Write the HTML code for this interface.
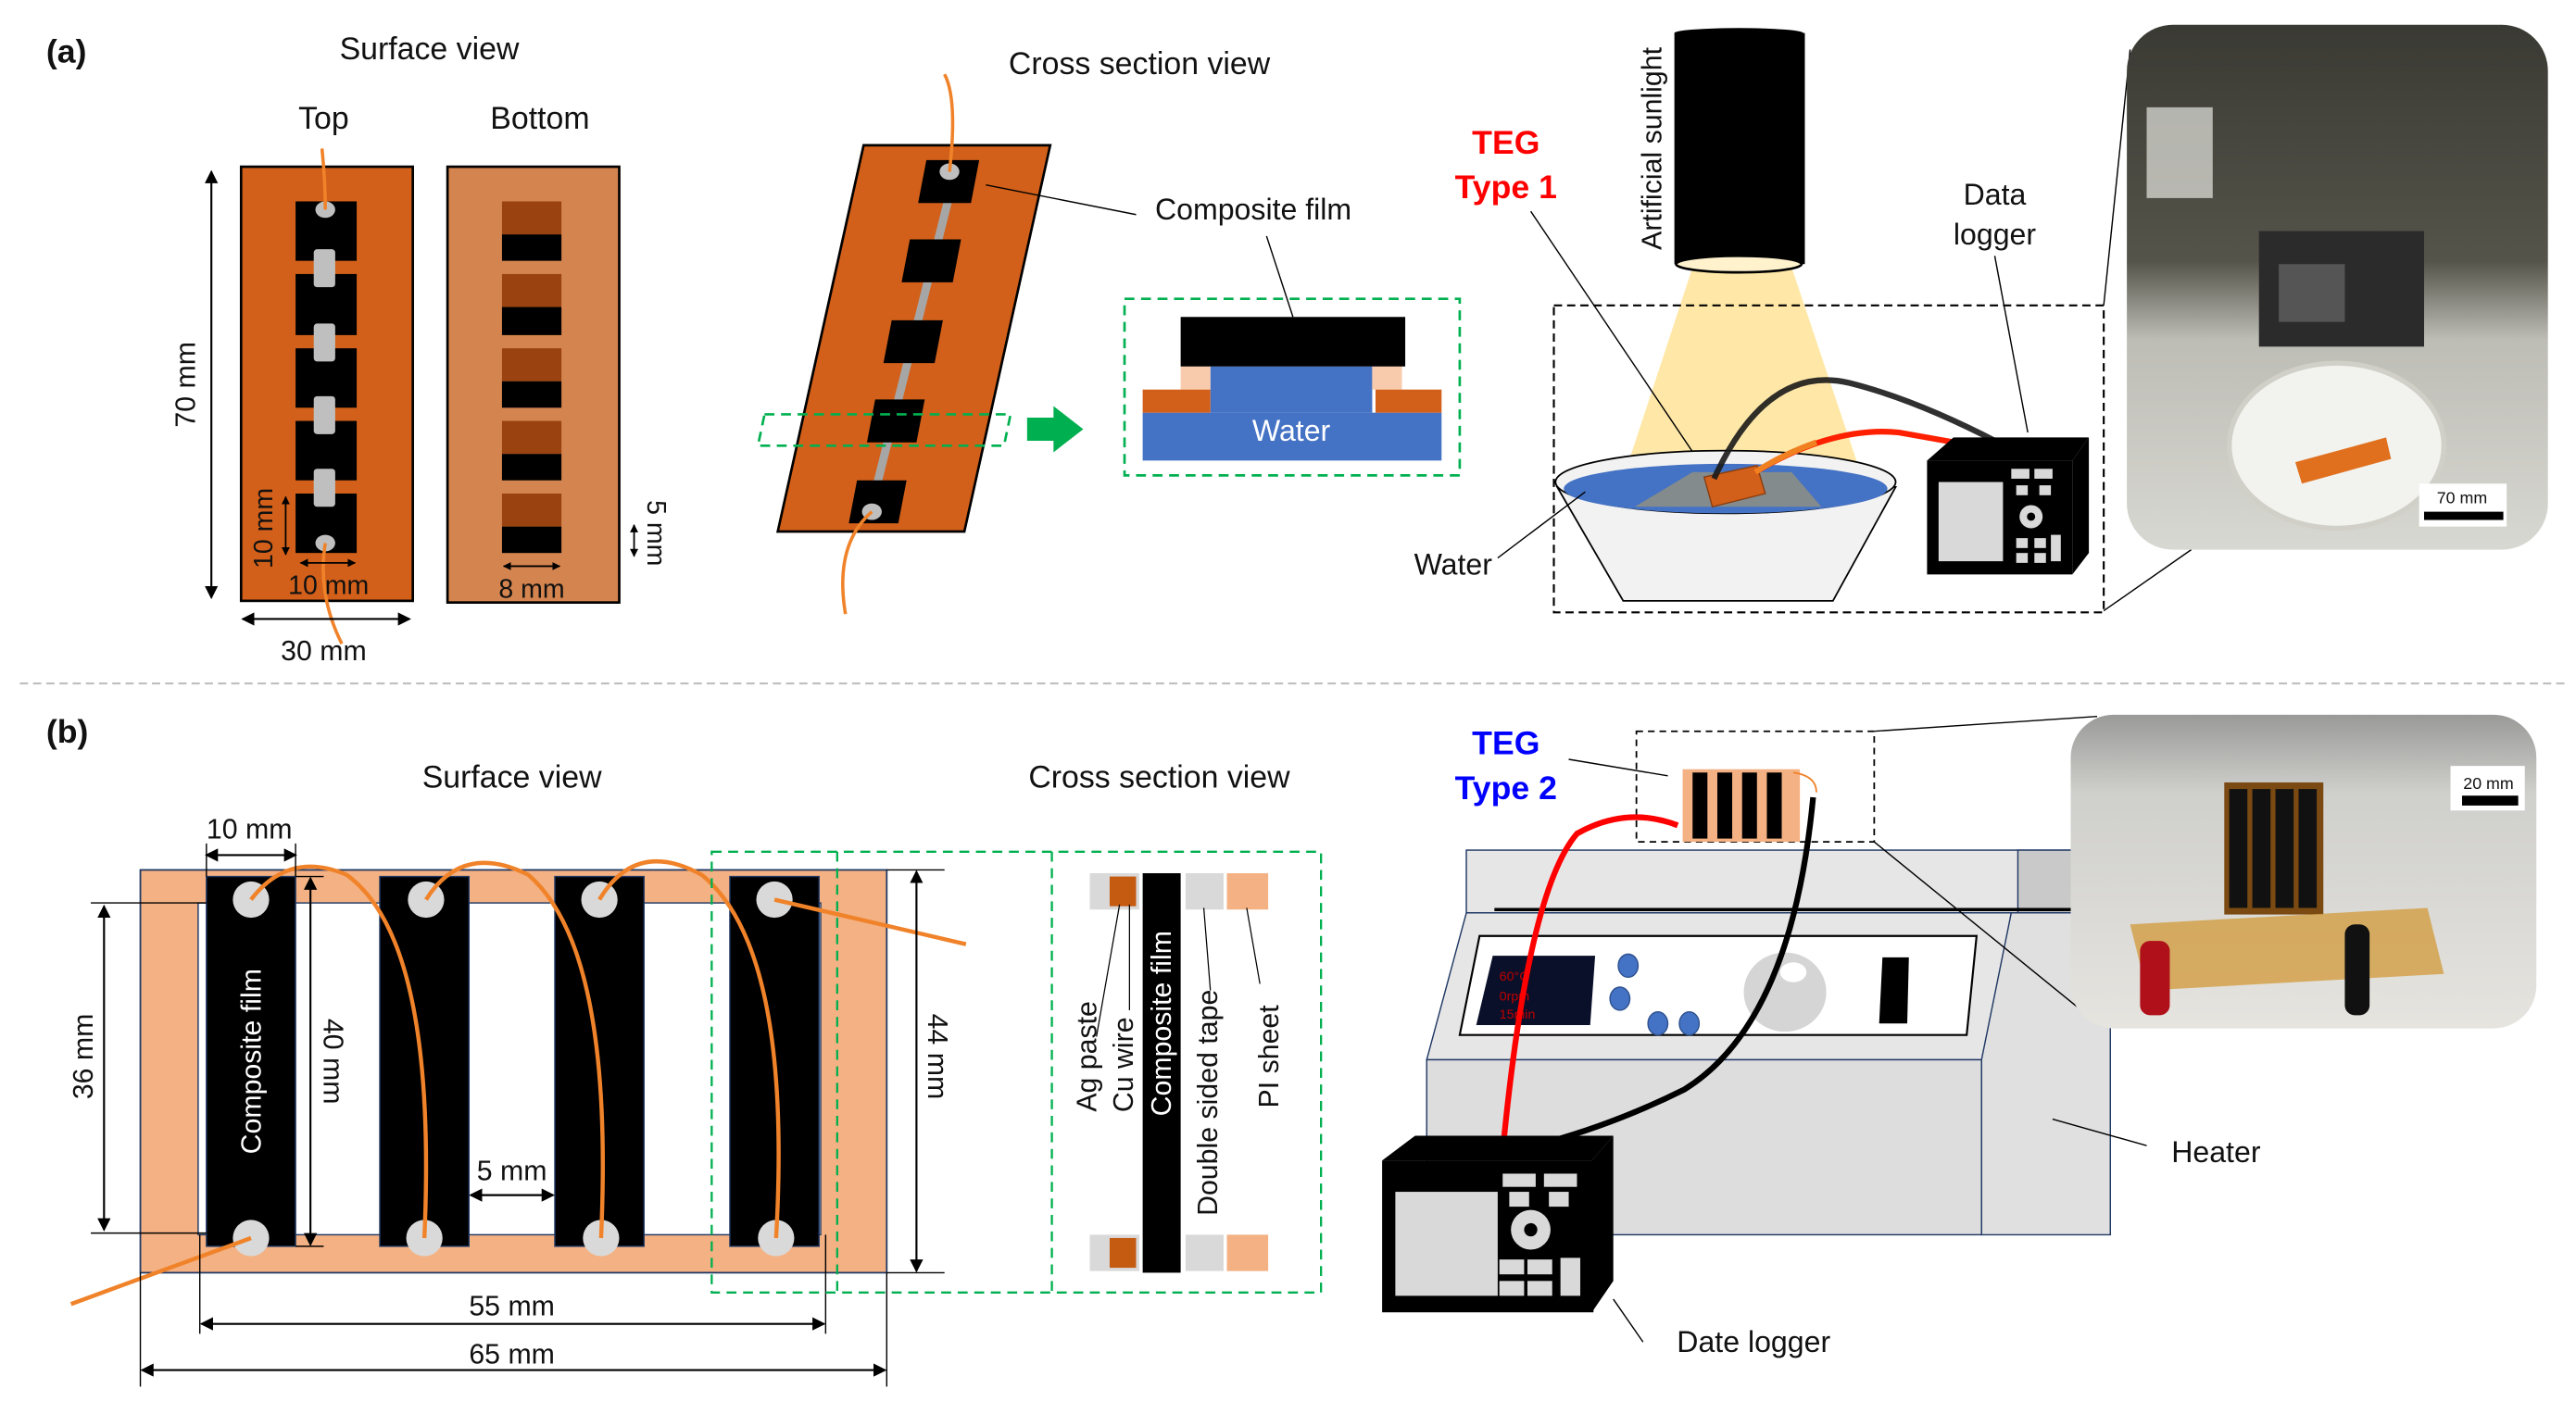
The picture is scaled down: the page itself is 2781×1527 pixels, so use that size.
<!DOCTYPE html>
<html><head><meta charset="utf-8"><style>
html,body{margin:0;padding:0;background:#fff;}
svg{display:block;}
text{font-family:"Liberation Sans Narrow","Liberation Sans",sans-serif;fill:#111;}
.w{font-family:"Liberation Sans",sans-serif;}
</style></head><body>
<svg width="2781" height="1527" viewBox="0 0 1560 856.6" preserveAspectRatio="none" xmlns="http://www.w3.org/2000/svg">
<defs>
<marker id="ar" markerWidth="8" markerHeight="8" refX="7" refY="4" orient="auto-start-reverse" markerUnits="userSpaceOnUse"><path d="M0,0 L8,4 L0,8 z" fill="#000"/></marker>
<marker id="as" markerWidth="5" markerHeight="5" refX="4.5" refY="2.5" orient="auto-start-reverse" markerUnits="userSpaceOnUse"><path d="M0,0 L5,2.5 L0,5 z" fill="#000"/></marker>
<linearGradient id="ph1" x1="0" y1="0" x2="0" y2="1"><stop offset="0" stop-color="#3a3a34"/><stop offset="0.45" stop-color="#55544a"/><stop offset="0.6" stop-color="#bdbdb6"/><stop offset="1" stop-color="#d8d8d2"/></linearGradient>
<linearGradient id="ph2" x1="0" y1="0" x2="0" y2="1"><stop offset="0" stop-color="#9a9a98"/><stop offset="0.25" stop-color="#cfcfcc"/><stop offset="1" stop-color="#e6e4df"/></linearGradient>
</defs>

<!-- (a) -->
<text x="28" y="38" font-size="20" font-weight="bold">(a)</text>
<text x="260" y="36" font-size="19" text-anchor="middle">Surface view</text>
<text x="196" y="78" font-size="19" text-anchor="middle">Top</text>
<text x="327" y="78" font-size="19" text-anchor="middle">Bottom</text>

<!-- top board -->
<rect x="146" y="101" width="104" height="263" fill="#D2601A" stroke="#000" stroke-width="1.5"/>
<g fill="#000">
<rect x="179" y="122" width="37" height="36"/><rect x="179" y="166" width="37" height="37"/><rect x="179" y="211" width="37" height="36"/><rect x="179" y="255" width="37" height="36"/><rect x="179" y="299" width="37" height="36"/>
</g>
<g fill="#BFBFBF"><rect x="190" y="151" width="13" height="23" rx="2"/><rect x="190" y="196" width="13" height="23" rx="2"/><rect x="190" y="240" width="13" height="23" rx="2"/><rect x="190" y="284" width="13" height="23" rx="2"/>
<ellipse cx="197" cy="127" rx="6" ry="5"/><ellipse cx="197" cy="329" rx="6" ry="5"/></g>
<path d="M195,90 Q197,110 197,127" stroke="#F0832A" stroke-width="2" fill="none"/>
<path d="M197,329 Q192,360 207,390" stroke="#F0832A" stroke-width="2" fill="none"/>

<!-- bottom board -->
<rect x="271" y="101" width="104" height="264" fill="#D4844E" stroke="#000" stroke-width="1.5"/>
<g>
<rect x="304" y="122" width="36" height="20" fill="#9A4310"/><rect x="304" y="142" width="36" height="16" fill="#000"/>
<rect x="304" y="166" width="36" height="20" fill="#9A4310"/><rect x="304" y="186" width="36" height="17" fill="#000"/>
<rect x="304" y="211" width="36" height="20" fill="#9A4310"/><rect x="304" y="231" width="36" height="16" fill="#000"/>
<rect x="304" y="255" width="36" height="20" fill="#9A4310"/><rect x="304" y="275" width="36" height="16" fill="#000"/>
<rect x="304" y="299" width="36" height="20" fill="#9A4310"/><rect x="304" y="319" width="36" height="16" fill="#000"/>
</g>
<!-- dims a -->
<line x1="128" y1="104" x2="128" y2="362" stroke="#000" stroke-width="1.2" marker-start="url(#ar)" marker-end="url(#ar)"/>
<text transform="translate(118,233) rotate(-90)" font-size="17" text-anchor="middle" class="w">70 mm</text>
<line x1="147" y1="375" x2="248" y2="375" stroke="#000" stroke-width="1.2" marker-start="url(#ar)" marker-end="url(#ar)"/>
<text x="196" y="400" font-size="17" text-anchor="middle">30 mm</text>
<line x1="173" y1="301" x2="173" y2="336" stroke="#000" stroke-width="1" marker-start="url(#as)" marker-end="url(#as)"/>
<text transform="translate(165,320) rotate(-90)" font-size="16" text-anchor="middle" class="w">10 mm</text>
<line x1="182" y1="341" x2="215" y2="341" stroke="#000" stroke-width="1" marker-start="url(#as)" marker-end="url(#as)"/>
<text x="199" y="360" font-size="16" text-anchor="middle">10 mm</text>
<line x1="305" y1="343" x2="339" y2="343" stroke="#000" stroke-width="1" marker-start="url(#as)" marker-end="url(#as)"/>
<text x="322" y="362" font-size="16" text-anchor="middle">8 mm</text>
<line x1="384" y1="318" x2="384" y2="337" stroke="#000" stroke-width="1" marker-start="url(#as)" marker-end="url(#as)"/>
<text transform="translate(392,323) rotate(90)" font-size="16" text-anchor="middle" class="w">5 mm</text>

<!-- cross section a -->
<text x="690" y="45" font-size="19" text-anchor="middle">Cross section view</text>
<polygon points="523,88 636,88 584,322 471,322" fill="#D2601A" stroke="#000" stroke-width="1.5"/>
<line x1="577" y1="110" x2="529" y2="302" stroke="#A6A6A6" stroke-width="5"/>
<g fill="#000">
<polygon points="561,97 593,97 588,123 556,123"/>
<polygon points="551,145 582,145 577,171 546,171"/>
<polygon points="540,194 571,194 566,220 535,220"/>
<polygon points="530,242 560,242 555,268 525,268"/>
<polygon points="519,291 549,291 544,317 514,317"/>
</g>
<ellipse cx="575" cy="104" rx="6" ry="5" fill="#BFBFBF"/><ellipse cx="528" cy="310" rx="6" ry="5" fill="#BFBFBF"/>
<path d="M572,45 Q580,60 575,104" stroke="#F0832A" stroke-width="2" fill="none"/>
<path d="M528,310 Q505,330 512,372" stroke="#F0832A" stroke-width="2" fill="none"/>
<polygon points="463,251 612,251 608,270 459,270" fill="none" stroke="#00B050" stroke-width="1.5" stroke-dasharray="6,4"/>
<polygon points="622,253 638,253 638,246 656,260 638,274 638,267 622,267" fill="#00B050"/>
<line x1="597" y1="112" x2="688" y2="130" stroke="#000" stroke-width="0.8"/>
<text x="759" y="133" font-size="18" text-anchor="middle">Composite film</text>
<line x1="767" y1="143" x2="783" y2="192" stroke="#000" stroke-width="0.8"/>
<rect x="681" y="181" width="203" height="107" fill="none" stroke="#00B050" stroke-width="1.5" stroke-dasharray="6,4"/>
<rect x="692" y="250" width="181" height="29" fill="#4472C4"/>
<rect x="733" y="222" width="98" height="28" fill="#4472C4"/>
<rect x="715" y="222" width="18" height="14" fill="#F8CBAD"/><rect x="831" y="222" width="18" height="14" fill="#F8CBAD"/>
<rect x="692" y="236" width="41" height="14" fill="#D2601A"/><rect x="833" y="236" width="40" height="14" fill="#D2601A"/>
<rect x="715" y="192" width="136" height="30" fill="#000"/>
<text x="782" y="267" font-size="18" text-anchor="middle" style="fill:#fff">Water</text>

<!-- sunlight setup -->
<polygon points="1025,162 1085,162 1133,305 978,305" fill="#FFE08A" opacity="0.75"/>
<rect x="1014" y="20" width="79" height="140" fill="#000"/>
<ellipse cx="1053" cy="20" rx="39" ry="3" fill="#000"/>
<ellipse cx="1053" cy="160" rx="38" ry="5" fill="#FFF2CC" stroke="#000" stroke-width="1.5"/>
<text transform="translate(1006,90) rotate(-90)" font-size="17" text-anchor="middle" class="w">Artificial sunlight</text>
<text x="912" y="93" font-size="20" font-weight="bold" text-anchor="middle" style="fill:#FF0000">TEG</text>
<text x="912" y="120" font-size="20" font-weight="bold" text-anchor="middle" style="fill:#FF0000">Type 1</text>
<line x1="927" y1="128" x2="1040" y2="296" stroke="#000" stroke-width="0.8"/>
<rect x="941" y="185" width="333" height="186" fill="none" stroke="#000" stroke-width="1.2" stroke-dasharray="5,3"/>
<polygon points="943,295 1148,295 1110,364 983,364" fill="#F2F2F2" stroke="#000" stroke-width="1"/>
<ellipse cx="1045" cy="292" rx="103" ry="19" fill="#F2F2F2" stroke="#000" stroke-width="1"/>
<ellipse cx="1045" cy="296" rx="98" ry="15" fill="#4472C4"/>
<polygon points="1025,286 1085,286 1103,307 990,307" fill="#B8A060" opacity="0.55"/>
<polygon points="1032,289 1064,282 1069,299 1037,307" fill="#D2601A" stroke="#8a3d10" stroke-width="0.8"/>
<path d="M1038,290 Q1070,220 1120,232 Q1160,242 1210,268" stroke="#1a1a1a" stroke-width="3.5" fill="none" opacity="0.9"/>
<path d="M1063,286 Q1110,258 1150,262 L1195,270" stroke="#FF2000" stroke-width="3.5" fill="none"/>
<path d="M1063,286 Q1080,275 1100,268" stroke="#F08020" stroke-width="3.5" fill="none"/>
<!-- logger a -->
<polygon points="1167,279 1183,265 1265,265 1255,279" fill="#000"/>
<polygon points="1255,279 1265,265 1265,335 1255,348" fill="#000"/>
<rect x="1167" y="279" width="88" height="69" fill="#000"/>
<rect x="1174" y="292" width="39" height="48" fill="#D9D9D9"/>
<g fill="#D9D9D9"><rect x="1218" y="284" width="11" height="6"/><rect x="1232" y="284" width="11" height="6"/><rect x="1221" y="294" width="7" height="6"/><rect x="1235" y="294" width="7" height="6"/><circle cx="1230" cy="313" r="7"/><rect x="1221" y="326" width="7" height="6"/><rect x="1232" y="326" width="7" height="6"/><rect x="1221" y="335" width="7" height="6"/><rect x="1232" y="335" width="7" height="6"/><rect x="1242" y="324" width="6" height="16"/></g>
<circle cx="1230" cy="313" r="2.5" fill="#000"/>
<text x="1208" y="124" font-size="18" text-anchor="middle">Data</text>
<text x="1208" y="148" font-size="18" text-anchor="middle">logger</text>
<line x1="1208" y1="155" x2="1228" y2="262" stroke="#000" stroke-width="0.8"/>
<text x="880" y="348" font-size="18" text-anchor="middle">Water</text>
<line x1="907" y1="338" x2="960" y2="298" stroke="#000" stroke-width="0.8"/>
<!-- photo a -->
<line x1="1274" y1="370" x2="1327" y2="333" stroke="#000" stroke-width="0.8"/>
<line x1="1274" y1="185" x2="1290" y2="30" stroke="#000" stroke-width="0.8"/>
<rect x="1288" y="15" width="255" height="318" rx="28" fill="url(#ph1)"/>
<rect x="1300" y="65" width="40" height="55" fill="#e6e6e0" opacity="0.7"/>
<rect x="1368" y="140" width="100" height="70" fill="#2b2b2b"/>
<rect x="1380" y="160" width="40" height="35" fill="#555"/>
<ellipse cx="1415" cy="270" rx="65" ry="50" fill="#f2f2ee" stroke="#d0d0c8" stroke-width="3"/>
<polygon points="1390,280 1445,265 1448,278 1394,293" fill="#E0701E"/>
<rect x="1465" y="293" width="53" height="26" fill="#fff"/>
<text x="1491" y="305" font-size="10" text-anchor="middle">70 mm</text>
<rect x="1468" y="310" width="48" height="5" fill="#000"/>

<!-- separator -->
<line x1="12" y1="414" x2="1553" y2="414" stroke="#BFBFBF" stroke-width="1.2" stroke-dasharray="5,3"/>

<!-- (b) -->
<text x="28" y="450" font-size="20" font-weight="bold">(b)</text>
<text x="310" y="477" font-size="19" text-anchor="middle">Surface view</text>
<text x="702" y="477" font-size="19" text-anchor="middle">Cross section view</text>
<rect x="85" y="527" width="452" height="244" fill="#F4B183" stroke="#1F3864" stroke-width="1"/>
<rect x="120" y="547" width="377" height="201" fill="#fff" stroke="#1F3864" stroke-width="0.8"/>
<g fill="#000" stroke="#1F3864" stroke-width="0.8">
<rect x="125" y="531" width="54" height="224"/><rect x="230" y="531" width="54" height="224"/><rect x="336" y="531" width="54" height="224"/><rect x="442" y="531" width="54" height="224"/>
</g>
<g fill="#D9D9D9">
<circle cx="152" cy="545" r="11"/><circle cx="152" cy="750" r="11"/><circle cx="258" cy="545" r="11"/><circle cx="257" cy="750" r="11"/><circle cx="363" cy="545" r="11"/><circle cx="364" cy="750" r="11"/><circle cx="469" cy="545" r="11"/><circle cx="470" cy="750" r="11"/>
</g>
<text transform="translate(158,643) rotate(-90)" font-size="17" text-anchor="middle" class="w" style="fill:#fff">Composite film</text>
<g stroke="#F0832A" stroke-width="2.5" fill="none">
<path d="M152,545 Q175,515 210,530 Q265,570 257,750"/>
<path d="M258,545 Q280,510 320,530 Q372,575 364,750"/>
<path d="M363,545 Q385,508 425,530 Q480,575 470,750"/>
<path d="M469,545 L585,572"/>
<path d="M152,750 L43,790"/>
</g>
<!-- dims b -->
<line x1="125" y1="518" x2="179" y2="518" stroke="#000" stroke-width="1.2" marker-start="url(#ar)" marker-end="url(#ar)"/>
<line x1="125" y1="511" x2="125" y2="531" stroke="#000" stroke-width="0.8"/><line x1="179" y1="511" x2="179" y2="531" stroke="#000" stroke-width="0.8"/>
<text x="151" y="508" font-size="17" text-anchor="middle">10 mm</text>
<line x1="63" y1="549" x2="63" y2="745" stroke="#000" stroke-width="1.2" marker-start="url(#ar)" marker-end="url(#ar)"/>
<line x1="55" y1="547" x2="125" y2="547" stroke="#000" stroke-width="0.8"/><line x1="55" y1="747" x2="125" y2="747" stroke="#000" stroke-width="0.8"/>
<text transform="translate(56,640) rotate(-90)" font-size="17" text-anchor="middle" class="w">36 mm</text>
<line x1="188" y1="532" x2="188" y2="754" stroke="#000" stroke-width="1.2" marker-start="url(#ar)" marker-end="url(#ar)"/>
<line x1="179" y1="531" x2="196" y2="531" stroke="#000" stroke-width="0.8"/><line x1="179" y1="755" x2="196" y2="755" stroke="#000" stroke-width="0.8"/>
<text transform="translate(196,643) rotate(90)" font-size="17" text-anchor="middle" class="w">40 mm</text>
<line x1="285" y1="724" x2="335" y2="724" stroke="#000" stroke-width="1.2" marker-start="url(#ar)" marker-end="url(#ar)"/>
<text x="310" y="715" font-size="17" text-anchor="middle">5 mm</text>
<line x1="555" y1="528" x2="555" y2="770" stroke="#000" stroke-width="1.2" marker-start="url(#ar)" marker-end="url(#ar)"/>
<line x1="537" y1="527" x2="572" y2="527" stroke="#000" stroke-width="0.8"/><line x1="537" y1="771" x2="572" y2="771" stroke="#000" stroke-width="0.8"/>
<text transform="translate(562,640) rotate(90)" font-size="17" text-anchor="middle" class="w">44 mm</text>
<line x1="121" y1="748" x2="121" y2="808" stroke="#000" stroke-width="0.8"/><line x1="500" y1="748" x2="500" y2="808" stroke="#000" stroke-width="0.8"/>
<line x1="122" y1="802" x2="499" y2="802" stroke="#000" stroke-width="1.2" marker-start="url(#ar)" marker-end="url(#ar)"/>
<text x="310" y="797" font-size="17" text-anchor="middle">55 mm</text>
<line x1="85" y1="771" x2="85" y2="840" stroke="#000" stroke-width="0.8"/><line x1="537" y1="771" x2="537" y2="840" stroke="#000" stroke-width="0.8"/>
<line x1="86" y1="830" x2="536" y2="830" stroke="#000" stroke-width="1.2" marker-start="url(#ar)" marker-end="url(#ar)"/>
<text x="310" y="826" font-size="17" text-anchor="middle">65 mm</text>
<!-- green dashed -->
<g fill="none" stroke="#00B050" stroke-width="1.3" stroke-dasharray="6,4">
<rect x="431" y="516" width="369" height="267"/>
<line x1="507" y1="516" x2="507" y2="783"/>
<line x1="637" y1="516" x2="637" y2="783"/>
</g>
<!-- layers -->
<rect x="660" y="529" width="30" height="22" fill="#D9D9D9"/><rect x="672" y="531" width="16" height="18" fill="#C55A11"/>
<rect x="660" y="748" width="30" height="22" fill="#D9D9D9"/><rect x="672" y="750" width="16" height="18" fill="#C55A11"/>
<rect x="692" y="529" width="23" height="242" fill="#000"/>
<rect x="718" y="529" width="23" height="22" fill="#D9D9D9"/><rect x="718" y="748" width="23" height="22" fill="#D9D9D9"/>
<rect x="743" y="529" width="25" height="22" fill="#F4B183"/><rect x="743" y="748" width="25" height="22" fill="#F4B183"/>
<g stroke="#000" stroke-width="0.7">
<line x1="678" y1="548" x2="664" y2="628"/><line x1="684" y1="548" x2="684" y2="612"/>
<line x1="729" y1="550" x2="733" y2="600"/><line x1="755" y1="550" x2="763" y2="596"/>
</g>
<text transform="translate(664,640) rotate(-90)" font-size="17" text-anchor="middle" class="w">Ag paste</text>
<text transform="translate(686,645) rotate(-90)" font-size="17" text-anchor="middle" class="w">Cu wire</text>
<text transform="translate(709,620) rotate(-90)" font-size="17" text-anchor="middle" class="w" style="fill:#fff">Composite film</text>
<text transform="translate(737,668) rotate(-90)" font-size="17" text-anchor="middle" class="w">Double sided tape</text>
<text transform="translate(774,640) rotate(-90)" font-size="17" text-anchor="middle" class="w">PI sheet</text>

<!-- heater -->
<rect x="888" y="515" width="400" height="38" fill="#E7E6E6" stroke="#1F3864" stroke-width="0.8"/>
<rect x="1222" y="515" width="66" height="38" fill="#C9C9C9" stroke="#1F3864" stroke-width="0.8"/>
<line x1="905" y1="551" x2="1290" y2="551" stroke="#000" stroke-width="2"/>
<polygon points="888,553 1218,553 1203,642 864,642" fill="#E7E6E6" stroke="#1F3864" stroke-width="0.8"/>
<polygon points="1218,553 1278,553 1278,748 1200,748 1200,642" fill="#E0E0E0" stroke="#1F3864" stroke-width="0.8"/>
<rect x="864" y="642" width="336" height="106" fill="#DDDDDD" stroke="#1F3864" stroke-width="0.8"/>
<polygon points="896,567 1197,567 1191,627 884,627" fill="#fff" stroke="#000" stroke-width="1.2"/>
<polygon points="904,579 966,579 963,621 894,621" fill="#0A0F2A"/>
<text x="908" y="594" font-size="8" style="fill:#C00000">60°C</text>
<text x="908" y="606" font-size="8" style="fill:#C00000">0rpm</text>
<text x="908" y="617" font-size="8" style="fill:#C00000">15min</text>
<g fill="#4472C4" stroke="#2F528F" stroke-width="0.8"><ellipse cx="986" cy="585" rx="6" ry="7"/><ellipse cx="981" cy="605" rx="6" ry="7"/><ellipse cx="1004" cy="620" rx="6" ry="7"/><ellipse cx="1023" cy="620" rx="6" ry="7"/></g>
<ellipse cx="1081" cy="601" rx="25" ry="24" fill="#D5D5D5"/><ellipse cx="1086" cy="589" rx="8" ry="6" fill="#fff"/>
<polygon points="1140,580 1156,580 1155,620 1138,620" fill="#000"/>
<!-- TEG type 2 -->
<text x="912" y="457" font-size="20" font-weight="bold" text-anchor="middle" style="fill:#0000FF">TEG</text>
<text x="912" y="484" font-size="20" font-weight="bold" text-anchor="middle" style="fill:#0000FF">Type 2</text>
<line x1="950" y1="460" x2="1010" y2="470" stroke="#000" stroke-width="0.8"/>
<rect x="991" y="443" width="144" height="67" fill="none" stroke="#000" stroke-width="1" stroke-dasharray="4,3"/>
<rect x="1019" y="466" width="71" height="44" fill="#F4B183"/>
<g fill="#000"><rect x="1025" y="468" width="9" height="40"/><rect x="1040" y="468" width="9" height="40"/><rect x="1055" y="468" width="9" height="40"/><rect x="1070" y="468" width="9" height="40"/></g>
<path d="M1086,468 Q1100,470 1100,480" stroke="#F0832A" stroke-width="1" fill="none"/>
<path d="M1016,500 Q985,488 955,505 Q925,540 910,698" stroke="#FF0000" stroke-width="3.5" fill="none"/>
<path d="M1098,483 Q1085,620 1020,660 Q980,680 937,692" stroke="#000" stroke-width="3.5" fill="none"/>
<!-- logger b -->
<polygon points="837,703 857,688 977,688 964,703" fill="#000"/>
<polygon points="964,703 977,688 977,776 964,795" fill="#000"/>
<rect x="837" y="703" width="128" height="92" fill="#000"/>
<rect x="845" y="722" width="62" height="63" fill="#D9D9D9"/>
<g fill="#D9D9D9"><rect x="910" y="711" width="20" height="8"/><rect x="935" y="711" width="20" height="8"/><rect x="914" y="722" width="12" height="9"/><rect x="938" y="722" width="12" height="9"/><circle cx="927" cy="745" r="12"/><rect x="908" y="763" width="15" height="9"/><rect x="925" y="763" width="15" height="9"/><rect x="908" y="776" width="15" height="9"/><rect x="925" y="776" width="15" height="9"/><rect x="945" y="762" width="12" height="23"/></g>
<circle cx="927" cy="745" r="4" fill="#000"/>
<line x1="977" y1="787" x2="995" y2="813" stroke="#000" stroke-width="0.8"/>
<text x="1062" y="819" font-size="18" text-anchor="middle">Date logger</text>
<line x1="1243" y1="678" x2="1300" y2="694" stroke="#000" stroke-width="0.8"/>
<text x="1342" y="704" font-size="18" text-anchor="middle">Heater</text>
<!-- photo b -->
<line x1="1135" y1="443" x2="1270" y2="434" stroke="#000" stroke-width="0.8"/>
<line x1="1135" y1="510" x2="1258" y2="610" stroke="#000" stroke-width="0.8"/>
<rect x="1254" y="433" width="282" height="190" rx="26" fill="url(#ph2)"/>
<rect x="1347" y="474" width="60" height="80" fill="#7a4a12"/>
<g fill="#111"><rect x="1350" y="478" width="11" height="72"/><rect x="1364" y="478" width="11" height="72"/><rect x="1378" y="478" width="11" height="72"/><rect x="1392" y="478" width="11" height="72"/></g>
<polygon points="1290,560 1470,550 1480,590 1300,600" fill="#D19A38" opacity="0.75"/>
<rect x="1296" y="570" width="18" height="45" rx="6" fill="#B0101A"/>
<rect x="1420" y="560" width="15" height="55" rx="6" fill="#111"/>
<rect x="1484" y="464" width="45" height="27" fill="#fff"/>
<text x="1507" y="478" font-size="10" text-anchor="middle">20 mm</text>
<rect x="1491" y="482" width="34" height="6" fill="#000"/>
</svg>
</body></html>
